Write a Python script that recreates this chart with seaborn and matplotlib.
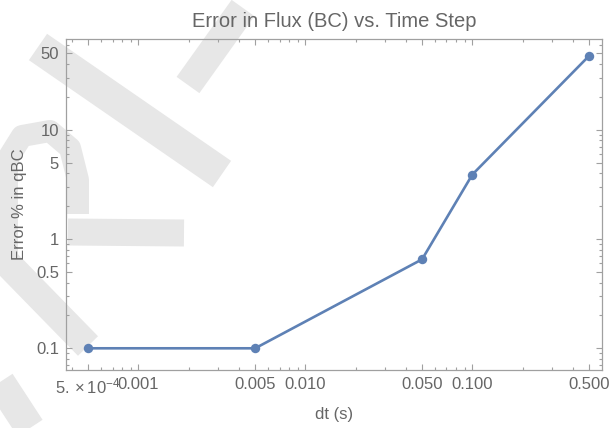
import numpy as np
import pandas as pd
import seaborn as sns
from matplotlib import pyplot as plt
from matplotlib.lines import Line2D
from matplotlib.ticker import FixedLocator, LogLocator, NullFormatter

# data
dt = [0.0005, 0.005, 0.05, 0.1, 0.5]
err_pct = [0.1, 0.1, 0.652, 3.89, 47.4]

x_ticks = [0.0005, 0.001, 0.005, 0.01, 0.05, 0.1, 0.5]
x_labels = [r"$\mathregular{5.\times10^{-4}}$", "0.001", "0.005", "0.010", "0.050", "0.100", "0.500"]
y_ticks = [0.1, 0.5, 1, 5, 10, 50]
y_labels = ["0.1", "0.5", "1", "5", "10", "50"]

sns.set_style("ticks")
plt.rcParams['font.family'] = ['Liberation Sans', 'DejaVu Sans']
plt.rcParams['mathtext.fontset'] = 'custom'
plt.rcParams['mathtext.rm'] = 'Liberation Sans'
plt.rcParams['mathtext.it'] = 'Liberation Sans:italic'

text_col = "#666666"
axis_col = "#a0a0a0"
line_col = "#5e81b5"

df = pd.DataFrame({"dt": dt, "err": err_pct})

fig = plt.figure(figsize=(6.1, 4.28), dpi=100)

# light grey watermark behind the plot (pixel coords, top-left origin)
W, H = 610, 428
wm = [
    ([(38, 47), (222, 174)], 32),
    ([(243, 8), (188, 85)], 28),
    ([(7, 268), (7, 160), (22, 136), (50, 131), (70, 148), (78, 180), (78, 214)], 22),
    ([(68, 232), (184, 233)], 27),
    ([(6, 262), (88, 346)], 28),
    ([(0, 382), (30, 428)], 30),
]
for pts, wpx in wm:
    xs = [p[0] / W for p in pts]
    ys = [1 - p[1] / H for p in pts]
    fig.add_artist(Line2D(xs, ys, transform=fig.transFigure, color="#e7e7e7",
                          lw=wpx * 0.72, solid_capstyle="butt",
                          solid_joinstyle="round", zorder=0))

ax = fig.add_axes([66 / W, 1 - 370 / H, (602 - 66) / W, (370 - 39) / H])
ax.set_facecolor("none")

sns.lineplot(data=df, x="dt", y="err", ax=ax, color=line_col, lw=1.9,
             marker="o", markersize=6.8, markeredgewidth=0, sort=False)

ax.set_xscale("log")
ax.set_yscale("log")
ax.set_xlim(3.68e-4, 0.598)
ax.set_ylim(0.0633, 67.7)

ax.xaxis.set_major_locator(FixedLocator(x_ticks))
ax.set_xticklabels(x_labels)
ax.yaxis.set_major_locator(FixedLocator(y_ticks))
ax.set_yticklabels(y_labels)
ax.xaxis.set_minor_locator(LogLocator(base=10, subs=np.arange(2, 10)))
ax.yaxis.set_minor_locator(LogLocator(base=10, subs=np.arange(2, 10)))
ax.xaxis.set_minor_formatter(NullFormatter())
ax.yaxis.set_minor_formatter(NullFormatter())

ax.tick_params(which="both", direction="in", top=True, right=True,
               color=axis_col, width=0.8, labelcolor=text_col, labelsize=12)
ax.tick_params(which="major", length=4.5, pad=5)
ax.tick_params(which="minor", length=2.5)
for s in ax.spines.values():
    s.set_color(axis_col)
    s.set_linewidth(0.9)

ax.set_title("Error in Flux (BC) vs. Time Step", fontsize=14.5, color=text_col, pad=8.5)
ax.set_xlabel("dt (s)", fontsize=12, color=text_col)
ax.set_ylabel("Error % in qBC", fontsize=12, color=text_col)
ax.xaxis.set_label_coords(0.5, -0.112)
ax.yaxis.set_label_coords(-0.073, 0.5)

fig.savefig("out.png", dpi=100)
